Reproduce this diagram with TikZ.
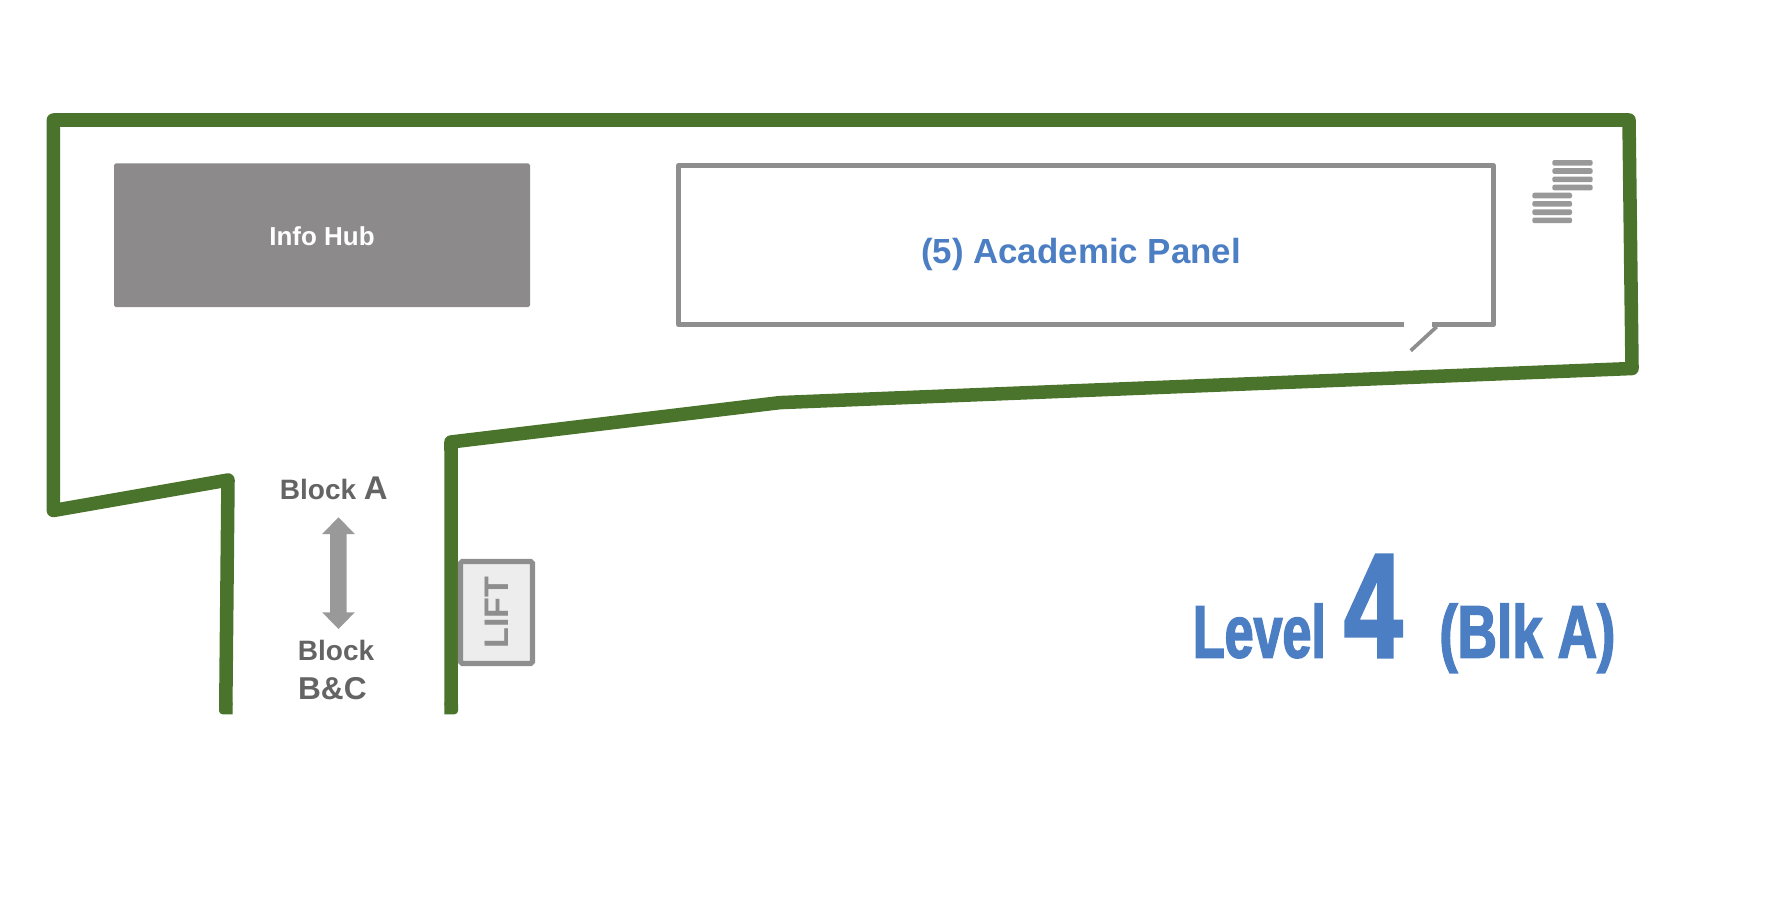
\documentclass[tikz,border=0pt]{standalone}
\usepackage{fontspec}
\setmainfont{Liberation Sans}
\newfontfamily\posterfont[FakeStretch=0.7,FakeBold=2]{Liberation Sans Bold}
\newfontfamily\posterwidefont[FakeStretch=0.735,FakeBold=2]{Liberation Sans Bold}
\definecolor{wallgreen}{HTML}{4A742B}
\definecolor{hubgrey}{HTML}{8C8A8B}
\definecolor{linegrey}{HTML}{8E8E8E}
\definecolor{signgrey}{HTML}{999999}
\definecolor{textgrey}{HTML}{646464}
\definecolor{levelblue}{HTML}{4C7EC3}
\newcommand{\pxfont}[1]{\fontsize{#1}{#1}\selectfont}
\tikzset{
	wall/.style={draw=wallgreen, line width=7.7pt, line join=round},
	wallend/.style={fill=wallgreen},
	partition/.style={draw=linegrey, line width=2.9pt},
	stairbar/.style={fill=signgrey, rounded corners=1.2pt},
	signtext/.style={text=textgrey, inner sep=0pt, anchor=base west, font=\bfseries\pxfont{15.95}},
	leveltext/.style={text=levelblue, inner sep=0pt, anchor=base west, font=\posterfont\pxfont{42.3}}
}

\begin{document}
\begin{tikzpicture}[x=0.02cm, y=-0.02cm]
			%%%%% START %%%%%
			\useasboundingbox (0, 0) rectangle (1790, 906);
			
			\draw[wall] (225.8, 705) -- (228, 480) -- (53.4, 510.5) -- (53.4, 120) -- (1629, 120) -- (1632, 368.5) -- (780, 402.6) -- (451, 442) -- (451.2, 705);
			\fill[wallend] (232.6, 700) -- (232.6, 714.3) [rounded corners=2pt] -- (219, 714.3) -- (219, 700) -- cycle;
			\fill[wallend] (444.4, 700) -- (444.4, 714.3) [rounded corners=2pt] -- (458, 714.3) -- (458, 700) -- cycle;
			
			\node[fill=hubgrey, rounded corners=1pt, minimum width=416*0.02cm, minimum height=143.7*0.02cm, text=white, text height=11.8pt, font=\bfseries\pxfont{14.8}] (infohub) at (322, 235.2) {Info Hub};
			
			\draw[partition, line join=round] (1404, 324.4) -- (678.5, 324.4) -- (678.5, 165.8) -- (1493.6, 165.8) -- (1493.6, 324.4) -- (1432, 324.4);
			\draw[draw=linegrey, line width=2.1pt] (1436.7, 326.7) -- (1410.7, 350.7);
			\node[text=levelblue, font=\bfseries\pxfont{19.86}] (panel) at (1081, 254.4) {(5) Academic Panel};
			
			\foreach \y in {160, 168.2, 176.5, 184.7} {
				\path[stairbar] (1552.3, \y) rectangle (1592.7, \y+5.7);
			}
			\foreach \y in {192.7, 201, 209.3, 217.5} {
				\path[stairbar] (1532.3, \y) rectangle (1572, \y+5.7);
			}
			
			\node[signtext] (blocka) at (279.5, 499) {Block {\pxfont{18.7}A}};
			\fill[signgrey] (338.5, 517.3) -- (354.8, 534) -- (346.7, 534) -- (346.7, 612.3) -- (354.8, 612.3) -- (338.5, 629) -- (322.2, 612.3) -- (330, 612.3) -- (330, 534) -- (322.2, 534) -- cycle;
			\node[signtext] (blockb) at (297.5, 660.7) {Block};
			\node[signtext, font=\bfseries\pxfont{18}] (blockc) at (297.8, 699.5) {B\&C};
			
			\node[draw=linegrey, fill=black!7, line width=2.9pt, rounded corners=1pt, minimum width=72*0.02cm, minimum height=102*0.02cm] (liftbox) at (496.5, 612.5) {};
			\node[rotate=90, text=linegrey, inner sep=0pt, font=\bfseries\pxfont{19.4}] (lift) at (liftbox.center) {LIFT};
			
			\node[leveltext] (level) at (1192.5, 657.5) {Level};
			\node[leveltext, font=\posterfont\pxfont{84.6}] (four) at (1344, 657) {4};
			\node[leveltext, font=\posterwidefont\pxfont{42.3}] (blk) at (1439, 657.5) {(Blk A)};
			%%%%% END %%%%%
\end{tikzpicture}
\end{document}
